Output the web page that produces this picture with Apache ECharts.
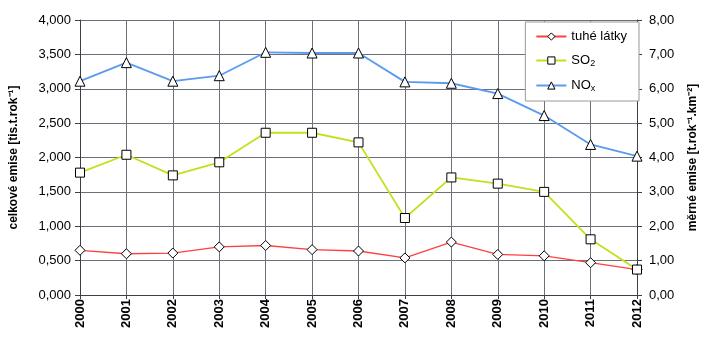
<!DOCTYPE html>
<html>
<head>
<meta charset="utf-8">
<script src="https://cdn.jsdelivr.net/npm/echarts@6/dist/echarts.min.js"></script>
<style>
  html, body { margin: 0; padding: 0; background: #fff; }
  #chart { width: 707px; height: 340px; }
</style>
</head>
<body>
<div id="chart"></div>
<script>
// roky na ose x
const years = ['2000','2001','2002','2003','2004','2005','2006','2007','2008','2009','2010','2011','2012']
// celkové emise [tis.t/rok]
const tuheLatky = [0.65, 0.60, 0.61, 0.70, 0.72, 0.66, 0.64, 0.54, 0.77, 0.59, 0.57, 0.47, 0.37]
const so2 = [1.78, 2.04, 1.74, 1.93, 2.36, 2.36, 2.22, 1.12, 1.71, 1.62, 1.50, 0.81, 0.37]
const nox = [3.11, 3.38, 3.11, 3.19, 3.53, 3.52, 3.52, 3.10, 3.08, 2.93, 2.61, 2.19, 2.02]

const chartInstance = echarts.init(document.getElementById('chart'))

const axisColor = '#3a3f4a'
const fmt = (v, d) => v.toFixed(d).replace('.', ',')

const option = {
  animation: false,
  textStyle: { fontFamily: 'Liberation Sans, Arial, sans-serif' },
  grid: { left: 76, right: 66, top: 20, bottom: 45 },
  legend: {
    orient: 'vertical',
    right: 68,
    top: 22,
    backgroundColor: '#fff',
    borderColor: '#999',
    borderWidth: 1,
    padding: [8, 12, 8, 10],
    itemGap: 11,
    itemWidth: 30,
    itemHeight: 9,
    itemStyle: { borderWidth: 1 },
    textStyle: {
      fontSize: 13,
      color: '#000',
      rich: {
        n: { fontSize: 13, color: '#000' },
        s: { fontSize: 9, color: '#000', verticalAlign: 'bottom', padding: [6, 0, 0, 0] }
      }
    },
    formatter: name => {
      if (name === 'SO2') return '{n|SO}{s|2}'
      if (name === 'NOx') return '{n|NO}{s|x}'
      return '{n|' + name + '}'
    },
    data: ['tuhé látky', 'SO2', 'NOx']
  },
  xAxis: {
    type: 'category',
    data: years,
    boundaryGap: false,
    axisLine: { lineStyle: { color: axisColor } },
    axisTick: { show: true, length: 4, lineStyle: { color: axisColor } },
    splitLine: { show: true, lineStyle: { color: '#6b707a' } },
    axisLabel: { rotate: 90, fontSize: 13, fontWeight: 'bold', color: '#000', margin: 4 }
  },
  yAxis: [
    {
      type: 'value',
      min: 0,
      max: 4,
      interval: 0.5,
      name: 'celkové emise [tis.t.rok⁻¹]',
      nameLocation: 'middle',
      nameGap: 60,
      nameTextStyle: { fontSize: 12, fontWeight: 'bold', color: '#000' },
      axisLine: { show: true, lineStyle: { color: axisColor } },
      axisTick: { show: true, length: 5, lineStyle: { color: axisColor } },
      splitLine: { lineStyle: { color: '#6b707a' } },
      axisLabel: { fontSize: 13, color: '#000', margin: 9, formatter: v => fmt(v, 3) }
    },
    {
      type: 'value',
      min: 0,
      max: 8,
      interval: 1,
      name: 'měrné emise [t.rok⁻¹.km⁻²]',
      nameLocation: 'middle',
      nameGap: 50,
      nameTextStyle: { fontSize: 12, fontWeight: 'bold', color: '#000' },
      axisLine: { show: true, lineStyle: { color: axisColor } },
      axisTick: { show: true, length: 5, lineStyle: { color: axisColor } },
      splitLine: { show: false },
      axisLabel: { fontSize: 13, color: '#000', margin: 12, formatter: v => fmt(v, 2) }
    }
  ],
  series: [
    {
      name: 'tuhé látky',
      type: 'line',
      data: tuheLatky,
      symbol: 'diamond',
      symbolSize: 10,
      lineStyle: { color: '#ff4040', width: 1.3 },
      itemStyle: { color: '#fff', borderColor: '#000', borderWidth: 1 }
    },
    {
      name: 'SO2',
      type: 'line',
      data: so2,
      symbol: 'rect',
      symbolSize: 9,
      lineStyle: { color: '#c3e01c', width: 1.8 },
      itemStyle: { color: '#fff', borderColor: '#000', borderWidth: 1 }
    },
    {
      name: 'NOx',
      type: 'line',
      data: nox,
      symbol: 'triangle',
      symbolSize: 10,
      lineStyle: { color: '#5a9bf0', width: 1.8 },
      itemStyle: { color: '#fff', borderColor: '#000', borderWidth: 1 }
    }
  ]
}

chartInstance.setOption(option)
</script>
</body>
</html>
